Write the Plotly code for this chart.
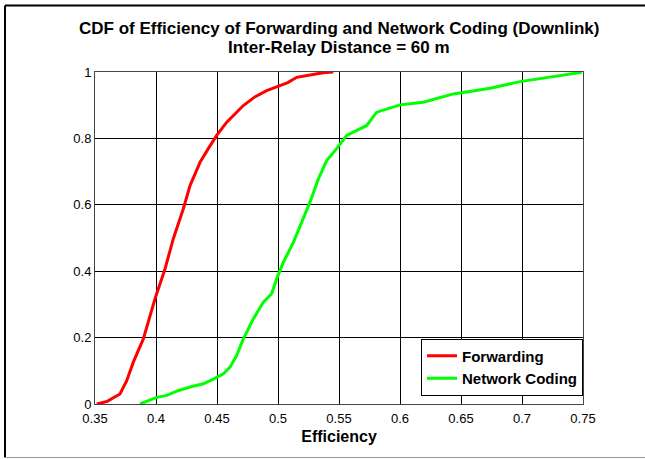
import plotly.graph_objects as go

# Forwarding CDF
fwd_x = [0.3514, 0.3600, 0.3705, 0.3760, 0.3814, 0.3896, 0.3992, 0.4074, 0.4142, 0.4224,
         0.4279, 0.4361, 0.4430, 0.4497, 0.4580, 0.4716, 0.4810, 0.4907, 0.5016, 0.5080,
         0.5153, 0.5260, 0.5371, 0.5453]
fwd_y = [0.000, 0.008, 0.030, 0.070, 0.126, 0.196, 0.317, 0.407, 0.498, 0.588,
         0.658, 0.728, 0.770, 0.809, 0.849, 0.899, 0.925, 0.944, 0.959, 0.968,
         0.984, 0.992, 0.998, 1.000]

# Network Coding CDF
nc_x = [0.3869, 0.4006, 0.4088, 0.4180, 0.4279, 0.4388, 0.4470, 0.4552, 0.4607, 0.4661,
        0.4716, 0.4798, 0.4880, 0.4948, 0.4989, 0.5044, 0.5126, 0.5194, 0.5262, 0.5331,
        0.5399, 0.5481, 0.5563, 0.5650, 0.5727, 0.5809, 0.5891, 0.6000, 0.6191, 0.6300,
        0.6437, 0.6600, 0.6738, 0.6984, 0.7120, 0.7257, 0.7490]
nc_y = [0.000, 0.020, 0.026, 0.040, 0.051, 0.061, 0.075, 0.091, 0.111, 0.146,
        0.196, 0.257, 0.307, 0.332, 0.377, 0.427, 0.487, 0.548, 0.608, 0.678,
        0.733, 0.769, 0.809, 0.825, 0.839, 0.879, 0.889, 0.901, 0.909, 0.920,
        0.934, 0.943, 0.951, 0.971, 0.978, 0.987, 0.999]

x_ticks = [0.35, 0.4, 0.45, 0.5, 0.55, 0.6, 0.65, 0.7, 0.75]
x_labels = ["0.35", "0.4", "0.45", "0.5", "0.55", "0.6", "0.65", "0.7", "0.75"]
y_ticks = [0, 0.2, 0.4, 0.6, 0.8, 1]
y_labels = ["0", "0.2", "0.4", "0.6", "0.8", "1"]

title_line1 = "CDF of Efficiency of Forwarding and Network Coding (Downlink)"
title_line2 = "Inter-Relay Distance = 60 m"

FONT = "Liberation Sans, Arial, Helvetica, sans-serif"

fig = go.Figure()
fig.add_trace(go.Scatter(x=fwd_x, y=fwd_y, mode="lines", name="<b>Forwarding</b>",
                         line=dict(color="#ff0000", width=3)))
fig.add_trace(go.Scatter(x=nc_x, y=nc_y, mode="lines", name="<b>Network Coding</b>",
                         line=dict(color="#00ff00", width=3)))

axis_common = dict(showgrid=True, gridcolor="#000000", gridwidth=1,
                   showline=True, linecolor="#444444", linewidth=1, mirror=True,
                   zeroline=False, ticks="", tickfont=dict(family=FONT, size=13, color="#000"))

fig.update_xaxes(range=[0.35, 0.75], tickvals=x_ticks, ticktext=x_labels, ticklabelstandoff=2,
                 title=dict(text="<b>Efficiency</b>", font=dict(family=FONT, size=16, color="#000"),
                            standoff=6),
                 **axis_common)
fig.update_yaxes(range=[0, 1], tickvals=y_ticks, ticktext=y_labels, **axis_common)

fig.add_annotation(text="<b>" + title_line1 + "</b>", xref="paper", yref="paper",
                   x=0.5, y=1.1325, xanchor="center", yanchor="middle", showarrow=False,
                   font=dict(family=FONT, size=17, color="#000"))
fig.add_annotation(text="<b>" + title_line2 + "</b>", xref="paper", yref="paper",
                   x=0.5, y=1.0723, xanchor="center", yanchor="middle", showarrow=False,
                   font=dict(family=FONT, size=17, color="#000"))

# figure frame
fig.add_shape(type="line", xref="paper", yref="paper", x0=-0.1844, x1=1.15, y0=1.2003, y1=1.2003,
              line=dict(color="#000", width=2))
fig.add_shape(type="line", xref="paper", yref="paper", x0=-0.1844, x1=-0.1844, y0=1.2003, y1=-0.1611,
              line=dict(color="#000", width=2))
fig.add_shape(type="line", xref="paper", yref="paper", x0=-0.1844, x1=1.15, y0=-0.1611, y1=-0.1611,
              line=dict(color="#999", width=1))

fig.update_layout(
    width=645, height=459,
    margin=dict(l=95, r=62, t=72, b=55),
    paper_bgcolor="white", plot_bgcolor="white",
    showlegend=True,
    legend=dict(x=1.0, y=0.0256, xanchor="right", yanchor="bottom",
                bgcolor="white", bordercolor="#000", borderwidth=1,
                font=dict(family=FONT, size=15, color="#000"),
                tracegroupgap=0, itemwidth=30),
    font=dict(family=FONT),
)

fig.write_html("out.html")
